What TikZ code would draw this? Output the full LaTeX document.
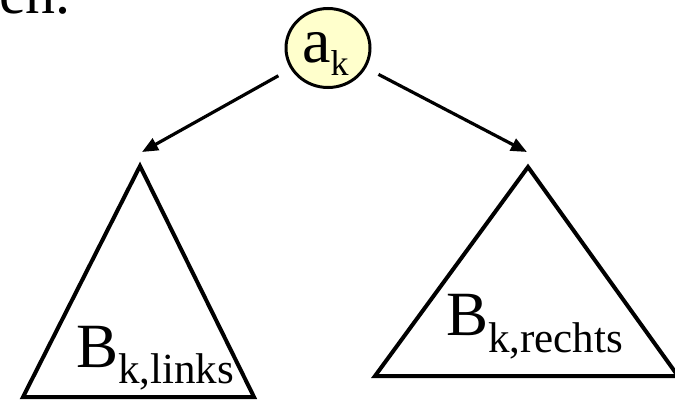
\documentclass[tikz,border=0pt]{standalone}
\usepackage{fontspec}
\setmainfont{Liberation Serif}
\usetikzlibrary{arrows.meta, shapes.geometric}

\definecolor{leafyellow}{RGB}{255,255,204}
\newcommand{\subtext}[3]{\raisebox{#1}{\fontsize{#2}{#2}\selectfont #3}}

\begin{document}
\begin{tikzpicture}[x=1pt, y=-1pt,
    leaf/.style={ellipse, draw, line width=3pt, fill=leafyellow,
      minimum width=84pt, minimum height=79pt, inner sep=0pt},
    arr/.style={-{Triangle[length=16pt, width=13pt]}, line width=3.2pt, shorten <=14pt},
    subtree/.style={draw, line width=4pt},
    lbl/.style={inner sep=0pt, anchor=base west, font=\fontsize{63}{63}\selectfont}]
  \useasboundingbox (0,0) rectangle (675,407);

  % end of the sentence above
  \node[inner sep=0pt, anchor=base east, font=\fontsize{60}{60}\selectfont] (rest) at (71,13) {en.};

  % root
  \node[leaf] (ak) at (328,48) {};
  \node[lbl, font=\fontsize{64}{64}\selectfont] (aktext) at (302,62) {a\subtext{-13pt}{36}{k}};

  % subtrees
  \coordinate (lapex) at (140,166);
  \coordinate (rapex) at (528,167);
  \draw[subtree] (lapex) -- (23,397) -- (254,397) -- cycle;
  \draw[subtree] (rapex) -- (375,376) -- (678,376) -- cycle;
  \node[lbl] (bleft) at (76,367) {B\subtext{-16pt}{43}{k,links}};
  \node[lbl] (bright) at (446,335) {B\subtext{-17pt}{43}{k,rechts}};

  % edges
  \coordinate (ltip) at (142,152);
  \coordinate (rtip) at (527,152);
  \draw[arr] (ak) -- (ltip);
  \draw[arr] (ak) -- (rtip);
\end{tikzpicture}
\end{document}
